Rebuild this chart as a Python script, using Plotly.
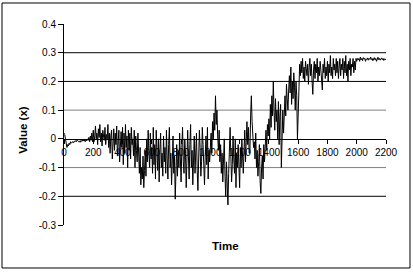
import plotly.graph_objects as go

# ---- data ----
time = list(range(0, 2201, 5))

values = [
    # 0-95
    0.02, 0.015, 0.0, -0.01, -0.03, -0.02, -0.025, -0.015, -0.02, -0.01,
    -0.015, -0.012, -0.01, -0.014, -0.008, -0.01, -0.006, -0.01, -0.004, -0.006,
    # 100-195
    -0.01, -0.008, -0.012, -0.006, -0.009, -0.004, -0.008, -0.002, -0.006, -0.01,
    -0.003, -0.007, 0.0, -0.005, 0.005, -0.01, 0.01, -0.005, 0.02, -0.01,
    # 200-295
    0.03, -0.01, 0.01, 0.045, 0.0, 0.02, -0.02, 0.035, 0.005, 0.05,
    -0.01, 0.02, -0.025, 0.03, 0.01, -0.005, 0.04, -0.02, 0.015, 0.0,
    # 300-395
    0.05, -0.03, 0.02, -0.05, 0.01, 0.03, -0.07, 0.0, 0.035, -0.04,
    0.02, -0.02, 0.045, -0.06, 0.01, 0.03, -0.08, 0.0, 0.025, -0.03,
    # 400-495
    0.04, -0.09, 0.02, -0.05, 0.05, -0.03, 0.01, -0.1, 0.03, -0.04,
    0.02, -0.07, 0.04, -0.02, 0.0, -0.06, 0.03, -0.1, 0.01, -0.04,
    # 500-595
    -0.08, 0.02, -0.05, -0.12, -0.03, -0.16, -0.1, -0.14, -0.06, -0.17,
    -0.11, -0.04, -0.13, 0.0, -0.08, 0.03, -0.05, -0.1, 0.02, -0.07,
    # 600-695
    -0.03, -0.12, 0.04, -0.09, -0.02, -0.14, 0.03, -0.06, -0.11, 0.0,
    -0.15, -0.04, 0.02, -0.1, -0.05, -0.13, 0.01, -0.08, -0.03, -0.12,
    # 700-795
    0.03, -0.07, -0.14, -0.02, 0.04, -0.1, -0.05, -0.16, -0.03, 0.01,
    -0.12, -0.06, -0.21, -0.09, -0.02, -0.13, -0.04, -0.1, 0.02, -0.07,
    # 800-895
    -0.15, -0.03, 0.04, -0.08, -0.12, 0.0, -0.05, -0.17, -0.09, 0.03,
    -0.06, -0.14, -0.02, 0.05, -0.1, -0.04, -0.16, -0.08, 0.01, -0.12,
    # 900-995
    -0.05, 0.02, -0.11, -0.18, -0.07, 0.03, -0.03, -0.13, -0.08, 0.04,
    -0.02, -0.1, -0.16, -0.06, 0.01, -0.09, 0.04, -0.14, -0.04, -0.08,
    # 1000-1095
    -0.03, 0.02, -0.05, 0.06, 0.0, 0.09, 0.03, 0.15, 0.05, 0.1,
    0.01, -0.04, 0.03, -0.08, -0.02, -0.12, -0.05, -0.15, -0.07, 0.0,
    # 1100-1195
    -0.13, -0.2, -0.08, -0.15, -0.23, -0.12, -0.04, 0.04, -0.06, -0.15,
    -0.09, 0.01, -0.07, -0.12, 0.0, -0.17, -0.05, -0.1, -0.02, -0.08,
    # 1200-1295
    -0.17, -0.03, -0.1, 0.0, -0.06, -0.12, -0.04, 0.03, -0.08, 0.0,
    0.06, -0.02, 0.04, -0.05, -0.05, 0.08, 0.15, 0.06, 0.02, -0.03,
    # 1300-1395
    -0.01, -0.07, 0.02, -0.1, -0.04, -0.13, -0.08, -0.02, -0.15, -0.19,
    -0.1, -0.06, -0.14, -0.02, -0.08, 0.0, 0.03, -0.04, 0.05, 0.01,
    # 1400-1495
    0.07, 0.0, 0.12, 0.04, 0.15, 0.08, 0.2, 0.1, 0.03, 0.14,
    0.06, 0.1, 0.0, 0.13, -0.02, 0.08, 0.12, -0.1, 0.05, 0.1,
    # 1500-1595
    0.02, 0.12, 0.15, 0.08, 0.19, 0.14, 0.1, 0.17, 0.22, 0.16,
    0.25, 0.12, 0.2, 0.14, 0.23, 0.18, 0.1, 0.2, 0.15, 0.0,
    # 1600-1695
    0.06, 0.17, 0.26, 0.22, 0.27, 0.23, 0.28, 0.21, 0.25, 0.2,
    0.27, 0.24, 0.22, 0.26, 0.19, 0.25, 0.28, 0.22, 0.26, 0.2,
    # 1700-1795
    0.155, 0.24, 0.27, 0.21, 0.26, 0.23, 0.28, 0.2, 0.25, 0.22,
    0.27, 0.24, 0.21, 0.17, 0.26, 0.23, 0.28, 0.21, 0.25, 0.22,
    # 1800-1895
    0.27, 0.2, 0.26, 0.23, 0.29, 0.22, 0.25, 0.21, 0.28, 0.24,
    0.26, 0.22, 0.28, 0.23, 0.27, 0.21, 0.25, 0.28, 0.22, 0.26,
    # 1900-1995
    0.24, 0.28, 0.21, 0.27, 0.23, 0.29, 0.22, 0.26, 0.2, 0.27,
    0.24, 0.28, 0.22, 0.26, 0.25, 0.28, 0.23, 0.27, 0.24, 0.28,
    # 2000-2095
    0.27, 0.28, 0.275, 0.28, 0.27, 0.285, 0.275, 0.28, 0.272, 0.283,
    0.278, 0.28, 0.27, 0.279, 0.276, 0.282, 0.274, 0.28, 0.277, 0.285,
    # 2100-2195
    0.276, 0.28, 0.272, 0.279, 0.283, 0.275, 0.28, 0.27, 0.278, 0.284,
    0.276, 0.28, 0.274, 0.279, 0.282, 0.276, 0.28, 0.273, 0.279, 0.276,
    # 2200
    0.278,
]

x_ticks = [0, 200, 400, 600, 800, 1000, 1200, 1400, 1600, 1800, 2000, 2200]
y_ticks = [0.4, 0.3, 0.2, 0.1, 0.0, -0.1, -0.2, -0.3]
y_tick_labels = ["0.4", "0.3", "0.2", "0.1", "0", "-0.1", "-0.2", "-0.3"]
grid_dark = [0.3, 0.2, -0.2]
grid_light = [0.1, -0.1]

FONT = "Liberation Sans, Arial, sans-serif"

fig = go.Figure()
fig.add_trace(go.Scatter(x=time, y=values, mode="lines",
                         line=dict(color="black", width=1),
                         showlegend=False, hoverinfo="skip"))

shapes = []
for g in grid_dark:
    shapes.append(dict(type="line", xref="paper", yref="y", x0=0, x1=1, y0=g, y1=g,
                       line=dict(color="black", width=1), layer="below"))
for g in grid_light:
    shapes.append(dict(type="line", xref="paper", yref="y", x0=0, x1=1, y0=g, y1=g,
                       line=dict(color="#808080", width=1), layer="below"))
# outer chart border
shapes.append(dict(type="rect", xref="paper", yref="paper",
                   x0=-0.1925, x1=1.0745, y0=-0.2139, y1=1.1045,
                   line=dict(color="black", width=1), fillcolor="rgba(0,0,0,0)"))

fig.update_layout(
    width=413, height=273,
    margin=dict(l=64, r=27, t=24, b=48, pad=0),
    paper_bgcolor="white", plot_bgcolor="white",
    font=dict(family=FONT, size=10, color="black"),
    shapes=shapes,
    xaxis=dict(range=[0, 2200], tickvals=x_ticks, ticktext=[str(v) for v in x_ticks],
               showline=True, linecolor="black", linewidth=1,
               ticks="outside", ticklen=4, tickcolor="black", tickwidth=1,
               showgrid=False, zeroline=False, anchor="free", position=0.3 / 0.7,
               automargin=False, tickfont=dict(size=10)),
    yaxis=dict(range=[-0.3, 0.4], tickvals=y_ticks, ticktext=y_tick_labels,
               showline=True, linecolor="black", linewidth=1,
               ticks="outside", ticklen=5, tickcolor="black", tickwidth=1,
               showgrid=False, zeroline=False, automargin=False,
               tickfont=dict(size=10)),
    annotations=[
        dict(text="<b>Time</b>", xref="paper", yref="paper", x=0.5, y=-0.104,
             xanchor="center", yanchor="middle", showarrow=False,
             font=dict(size=11.5, family=FONT)),
        dict(text="<b>Value (x)</b>", xref="paper", yref="paper", x=-0.13, y=0.47,
             xanchor="center", yanchor="middle", showarrow=False, textangle=-90,
             font=dict(size=11.5, family=FONT)),
    ],
)

fig.write_html("out.html",
               config={"displayModeBar": False},
               post_script="document.body.style.margin='0';document.body.style.padding='0';")
